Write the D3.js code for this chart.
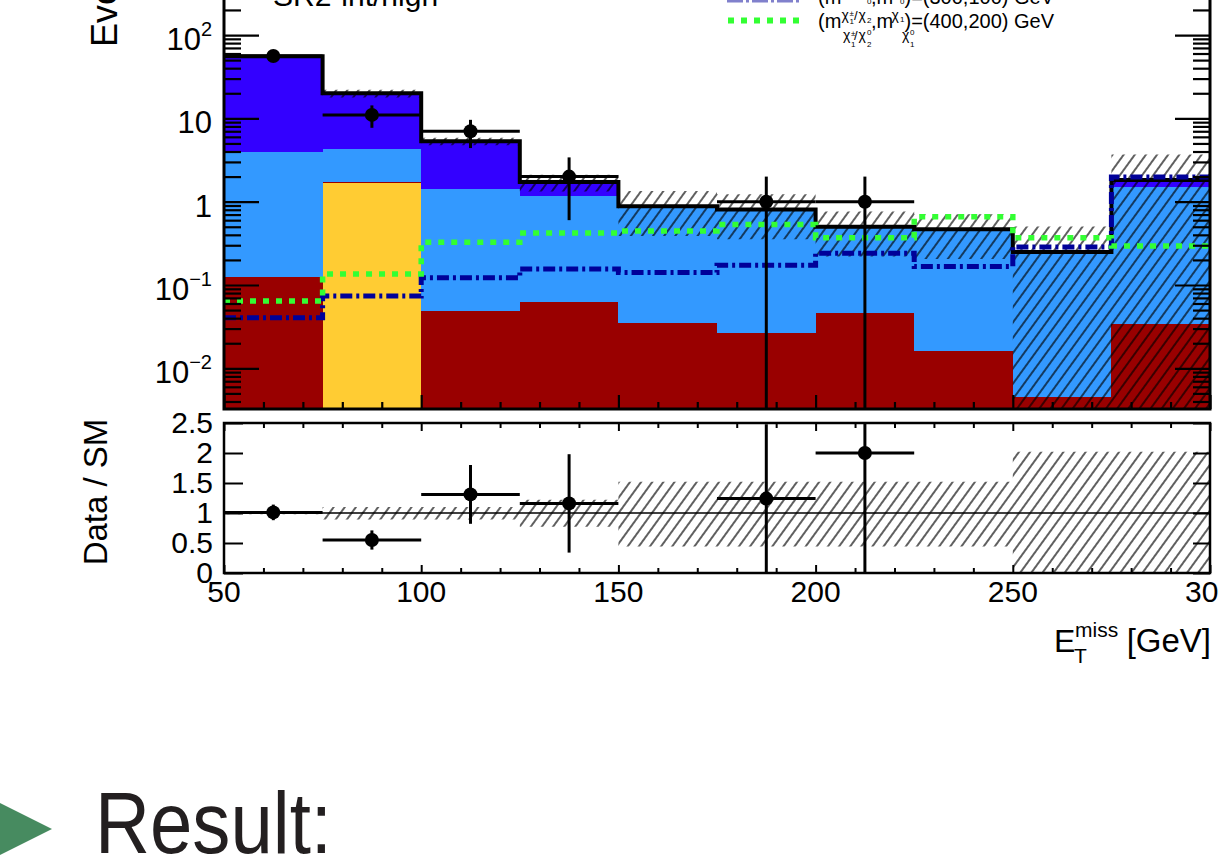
<!DOCTYPE html>
<html>
<head>
<meta charset="utf-8">
<script src="https://cdn.jsdelivr.net/npm/d3@7"></script>
<style>
  body { margin: 0; background: #fff; }
  text { font-family: "Liberation Sans", Arial, Helvetica, sans-serif; fill: #000; }
</style>
</head>
<body>
<div id="chart"></div>
<script>
// bin edges, E_T^miss in GeV
var binEdges = [50, 75, 100, 125, 150, 175, 200, 225, 250, 275, 300]

// SM backgrounds (stacked, bottom to top)
var bkgYellow    = [0, 1.66, 0, 0, 0, 0, 0, 0, 0, 0]
var bkgRed       = [0.124, 0.08, 0.0488, 0.063, 0.0352, 0.0267, 0.0458, 0.0163, 0.0045, 0.0342]
var bkgLightBlue = [3.80, 2.56, 1.36, 1.10, 0.835, 0.773, 0.444, 0.444, 0.2405, 1.476]
var bkgBlue      = [51.6, 15.7, 3.92, 0.56, 0.012, 0.006, 0.01, 0.005, 0.004, 0.31]

// uncertainty band, relative to the SM total
var bandUp   = [1.02, 1.10, 1.10, 1.22, 1.52, 1.52, 1.52, 1.52, 2.02, 2.02]
var bandDown = [0.98, 0.89, 0.89, 0.77, 0.44, 0.44, 0.44, 0.44, 0, 0]

// signals
var sig300 = [0.0405, 0.0738, 0.1225, 0.156, 0.141, 0.173, 0.241, 0.167, 0.286, 1.98]
var sig400 = [0.0643, 0.1355, 0.326, 0.42, 0.445, 0.534, 0.37, 0.659, 0.37, 0.294]

// data
var dataVal = [56, 11, 7, 2, 0, 1, 1, 0, 0, 0]
var dataErr = [7.5, 3.3, 2.6, 1.4, 0, 1, 1, 0, 0, 0]

// data / SM
var ratioVal = [1.01, 0.55, 1.31, 1.16, null, 1.24, 2.0, null, null, null]
var ratioErr = [0.13, 0.16, 0.49, 0.82, 0, 1.24, 2.0, 0, 0, 0]

// axis ticks
var yMajor = [0.01, 0.1, 1, 10, 100]
var yLabels = [["10", "\u22122"], ["10", "\u22121"], ["1", ""], ["10", ""], ["10", "2"]]
var ratioTicks = [0, 0.5, 1, 1.5, 2, 2.5]
var ratioLabels = ["0", "0.5", "1", "1.5", "2", "2.5"]
var xMajor = [50, 100, 150, 200, 250, 300]

var W = 1219, H = 863

var svg = d3.select("#chart").append("svg")
  .attr("width", W)
  .attr("height", H)
  .style("display", "block")

svg.append("rect").attr("width", W).attr("height", H).attr("fill", "#fff")

// hatch pattern
var defs = svg.append("defs")
defs.append("pattern")
  .attr("id", "hatch")
  .attr("patternUnits", "userSpaceOnUse")
  .attr("width", 9).attr("height", 9)
  .attr("patternTransform", "rotate(36)")
  .append("line")
  .attr("x1", 1).attr("y1", 0).attr("x2", 1).attr("y2", 9)
  .attr("stroke", "#000").attr("stroke-width", 1.25)

defs.append("clipPath").attr("id", "clipTop")
  .append("rect").attr("x", 225).attr("y", -80).attr("width", 984).attr("height", 488)
defs.append("clipPath").attr("id", "clipRatio")
  .append("rect").attr("x", 225).attr("y", 424).attr("width", 984).attr("height", 148)

// scales
var x = d3.scaleLinear().domain([50, 300]).range([224, 1210])
var y = d3.scaleLog().domain([0.00325, 1000]).range([409, -48.3]).clamp(true)
var yr = d3.scaleLinear().domain([0, 2.5]).range([573, 423])

function ly(v) { return y(Math.max(v, 1e-5)) }

// ---------- top panel ----------
var upper = svg.append("g").attr("clip-path", "url(#clipTop)")

var rows = bkgRed.map(function(v, i) {
  return {lo: binEdges[i], hi: binEdges[i + 1],
    yellow: bkgYellow[i], red: bkgRed[i], light: bkgLightBlue[i], blue: bkgBlue[i]}
})
var keys = ["yellow", "red", "light", "blue"]
var colors = {yellow: "#ffcc33", red: "#990000", light: "#3399ff", blue: "#3300ff"}
var stacked = d3.stack().keys(keys)(rows)

stacked.forEach(function(layer) {
  upper.selectAll(null)
    .data(layer)
    .enter()
    .append("rect")
    .attr("x", function(d) { return x(d.data.lo) })
    .attr("width", function(d) { return x(d.data.hi) - x(d.data.lo) })
    .attr("y", function(d) { return ly(d[1]) })
    .attr("height", function(d) { return Math.max(0, ly(d[0]) - ly(d[1])) })
    .attr("fill", colors[layer.key])
    .attr("shape-rendering", "crispEdges")
})

var total = stacked[stacked.length - 1].map(function(d) { return d[1] })

// step helpers
function stepPts(vals) {
  var p = []
  vals.forEach(function(v, i) { p.push([binEdges[i], v]); p.push([binEdges[i + 1], v]) })
  return p
}
var stepLine = d3.line()
  .x(function(d) { return x(d[0]) })
  .y(function(d) { return ly(d[1]) })

// uncertainty band (hatched)
var bandPts = []
total.forEach(function(t, i) {
  bandPts.push([binEdges[i], t * bandDown[i], t * bandUp[i]])
  bandPts.push([binEdges[i + 1], t * bandDown[i], t * bandUp[i]])
})
upper.append("path")
  .datum(bandPts)
  .attr("fill", "url(#hatch)")
  .attr("d", d3.area()
    .x(function(d) { return x(d[0]) })
    .y0(function(d) { return ly(d[1]) })
    .y1(function(d) { return ly(d[2]) }))

// SM total
upper.append("path")
  .datum(stepPts(total))
  .attr("fill", "none")
  .attr("stroke", "#000")
  .attr("stroke-width", 4)
  .attr("d", stepLine)

// signals
upper.append("path")
  .datum(stepPts(sig300))
  .attr("fill", "none")
  .attr("stroke", "#000099")
  .attr("stroke-width", 5)
  .attr("stroke-dasharray", "12,4,3,4")
  .attr("d", stepLine)

upper.append("path")
  .datum(stepPts(sig400))
  .attr("fill", "none")
  .attr("stroke", "#33ff33")
  .attr("stroke-width", 5.5)
  .attr("stroke-dasharray", "6,7")
  .attr("d", stepLine)

// data points
var dataRows = dataVal.map(function(v, i) {
  return {lo: binEdges[i], hi: binEdges[i + 1], v: v, e: dataErr[i], r: ratioVal[i], re: ratioErr[i]}
})
var dataShown = dataRows.filter(function(d) { return d.v > 0 })

upper.selectAll(null).data(dataShown).enter().append("line")
  .attr("x1", function(d) { return x(d.lo) })
  .attr("x2", function(d) { return x(d.hi) })
  .attr("y1", function(d) { return ly(d.v) })
  .attr("y2", function(d) { return ly(d.v) })
  .attr("stroke", "#000").attr("stroke-width", 3)
upper.selectAll(null).data(dataShown).enter().append("line")
  .attr("x1", function(d) { return x((d.lo + d.hi) / 2) })
  .attr("x2", function(d) { return x((d.lo + d.hi) / 2) })
  .attr("y1", function(d) { return ly(d.v + d.e) })
  .attr("y2", function(d) { return ly(d.v - d.e) })
  .attr("stroke", "#000").attr("stroke-width", 3)
upper.selectAll(null).data(dataShown).enter().append("circle")
  .attr("cx", function(d) { return x((d.lo + d.hi) / 2) })
  .attr("cy", function(d) { return ly(d.v) })
  .attr("r", 7)
  .attr("fill", "#000")

// frame of top panel
svg.append("path")
  .attr("d", "M224,-10 V409 H1210 V-10")
  .attr("fill", "none").attr("stroke", "#000").attr("stroke-width", 3)

// axes helper
function drawAxis(axis, tx, ty, sw) {
  var g = svg.append("g").attr("transform", "translate(" + tx + "," + ty + ")").call(axis)
  g.select(".domain").remove()
  g.selectAll("text").remove()
  g.selectAll(".tick line").attr("stroke", "#000").attr("stroke-width", sw)
  return g
}

var yMinor = []
d3.range(-3, 3).forEach(function(dd) {
  d3.range(2, 10).forEach(function(k) {
    var v = k * Math.pow(10, dd)
    if (v > 0.00325 && v < 1000) yMinor.push(v)
  })
})

drawAxis(d3.axisLeft(y).tickValues(yMajor.concat([1000])).tickSize(-35).tickSizeOuter(0), 224, 0, 2.2)
drawAxis(d3.axisLeft(y).tickValues(yMinor).tickSize(-17).tickSizeOuter(0), 224, 0, 2.2)
drawAxis(d3.axisRight(y).tickValues(yMajor.concat([1000])).tickSize(-35).tickSizeOuter(0), 1210, 0, 2.2)
drawAxis(d3.axisRight(y).tickValues(yMinor).tickSize(-17).tickSizeOuter(0), 1210, 0, 2.2)

var xMinor = d3.range(50, 301, 10).filter(function(v) { return v % 50 != 0 })
drawAxis(d3.axisBottom(x).tickValues(xMajor).tickSize(-14).tickSizeOuter(0), 0, 409, 2.2)
drawAxis(d3.axisBottom(x).tickValues(xMinor).tickSize(-7).tickSizeOuter(0), 0, 409, 2.2)

// y labels of top panel
yMajor.forEach(function(v, i) {
  var t = svg.append("text")
    .attr("x", 212)
    .attr("y", y(v) + 15)
    .attr("text-anchor", "end")
    .attr("font-size", 31)
    .text(yLabels[i][0])
  if (yLabels[i][1] != "") {
    t.append("tspan").attr("dy", -14).attr("font-size", 20).text(yLabels[i][1])
  }
})

// y title (cut off at top)
svg.append("text")
  .attr("transform", "translate(117,47) rotate(-90)")
  .attr("text-anchor", "start")
  .attr("font-size", 36)
  .text("Events")

// region label
svg.append("text")
  .attr("x", 273).attr("y", 6)
  .attr("font-size", 30)
  .text("SR2-int/high")

// ---------- legend (cut off at top) ----------
var leg = svg.append("g")
leg.append("line")
  .attr("x1", 727).attr("x2", 800).attr("y1", 0).attr("y2", 0)
  .attr("stroke", "#8080cc").attr("stroke-width", 5)
  .attr("stroke-dasharray", "16,3,3,3")
leg.append("line")
  .attr("x1", 728).attr("x2", 800).attr("y1", 20.5).attr("y2", 20.5)
  .attr("stroke", "#33ff33").attr("stroke-width", 6)
  .attr("stroke-dasharray", "6,7")

function piece(px, py, size, str) {
  leg.append("text").attr("x", px).attr("y", py).attr("font-size", size).text(str)
}
function legendRow(B, mass, withSub) {
  piece(818, B, 20, "(m")
  // superscripts
  piece(841.5, B - 8, 14, "\u03c7")
  piece(849.5, B - 12, 8, "\u00b1")
  piece(849.5, B - 4, 8, "1")
  piece(854, B - 8, 13, "/")
  piece(858.5, B - 8, 14, "\u03c7")
  piece(867, B - 5, 8, "2")
  piece(867, B - 24, 8, "0")
  piece(871, B, 20, ",m")
  piece(891.5, B - 8, 14, "\u03c7")
  piece(900, B - 6, 8, "1")
  piece(900, B - 24, 8, "0")
  piece(904.5, B, 20, ")=(" + mass + ") GeV")
  if (withSub) {
    piece(843, B + 12, 14, "\u03c7")
    piece(851, B + 8, 8, "\u00b1")
    piece(851, B + 19, 8, "1")
    piece(854, B + 12, 13, "/")
    piece(858.5, B + 12, 14, "\u03c7")
    piece(867, B + 7, 8, "0")
    piece(867, B + 19, 8, "2")
    piece(902, B + 12, 14, "\u03c7")
    piece(910, B + 7, 8, "0")
    piece(910, B + 19, 8, "1")
  }
}
legendRow(4, "300,100", false)
legendRow(28, "400,200", true)

// ---------- ratio panel ----------
var rat = svg.append("g").attr("clip-path", "url(#clipRatio)")

var rBand = []
bandUp.forEach(function(u, i) {
  rBand.push([binEdges[i], bandDown[i], u])
  rBand.push([binEdges[i + 1], bandDown[i], u])
})
rat.append("path")
  .datum(rBand)
  .attr("fill", "url(#hatch)")
  .attr("d", d3.area()
    .x(function(d) { return x(d[0]) })
    .y0(function(d) { return yr(d[1]) })
    .y1(function(d) { return yr(d[2]) }))

rat.append("line")
  .attr("x1", x(50)).attr("x2", x(300))
  .attr("y1", yr(1)).attr("y2", yr(1))
  .attr("stroke", "#000").attr("stroke-width", 1.5)

var ratioShown = dataRows.filter(function(d) { return d.r != null })
rat.selectAll(null).data(ratioShown).enter().append("line")
  .attr("x1", function(d) { return x(d.lo) })
  .attr("x2", function(d) { return x(d.hi) })
  .attr("y1", function(d) { return yr(d.r) })
  .attr("y2", function(d) { return yr(d.r) })
  .attr("stroke", "#000").attr("stroke-width", 3)
rat.selectAll(null).data(ratioShown).enter().append("line")
  .attr("x1", function(d) { return x((d.lo + d.hi) / 2) })
  .attr("x2", function(d) { return x((d.lo + d.hi) / 2) })
  .attr("y1", function(d) { return yr(d.r + d.re) })
  .attr("y2", function(d) { return yr(Math.max(0, d.r - d.re)) })
  .attr("stroke", "#000").attr("stroke-width", 3)
rat.selectAll(null).data(ratioShown).enter().append("circle")
  .attr("cx", function(d) { return x((d.lo + d.hi) / 2) })
  .attr("cy", function(d) { return yr(d.r) })
  .attr("r", 7)
  .attr("fill", "#000")

svg.append("rect")
  .attr("x", 224).attr("y", 423).attr("width", 986).attr("height", 150)
  .attr("fill", "none").attr("stroke", "#000").attr("stroke-width", 2.5)

drawAxis(d3.axisLeft(yr).tickValues(ratioTicks).tickSize(-19).tickSizeOuter(0), 224, 0, 2)
drawAxis(d3.axisRight(yr).tickValues(ratioTicks).tickSize(-17).tickSizeOuter(0), 1210, 0, 2)
drawAxis(d3.axisBottom(x).tickValues(xMajor).tickSize(-8).tickSizeOuter(0), 0, 573, 2)
drawAxis(d3.axisBottom(x).tickValues(xMinor).tickSize(-5).tickSizeOuter(0), 0, 573, 2)
drawAxis(d3.axisTop(x).tickValues(xMajor).tickSize(-8).tickSizeOuter(0), 0, 423, 2)
drawAxis(d3.axisTop(x).tickValues(xMinor).tickSize(-5).tickSizeOuter(0), 0, 423, 2)

ratioTicks.forEach(function(v, i) {
  svg.append("text")
    .attr("x", 213).attr("y", yr(v) + 10)
    .attr("text-anchor", "end")
    .attr("font-size", 30)
    .text(ratioLabels[i])
})

xMajor.forEach(function(v) {
  svg.append("text")
    .attr("x", x(v)).attr("y", 602)
    .attr("text-anchor", "middle")
    .attr("font-size", 30)
    .text(v)
})

svg.append("text")
  .attr("transform", "translate(107,492) rotate(-90)")
  .attr("text-anchor", "middle")
  .attr("font-size", 33)
  .text("Data / SM")

// x title
svg.append("text").attr("x", 1054).attr("y", 652).attr("font-size", 32).text("E")
svg.append("text").attr("x", 1075).attr("y", 637).attr("font-size", 21).text("miss")
svg.append("text").attr("x", 1074).attr("y", 663).attr("font-size", 21).text("T")
svg.append("text").attr("x", 1211).attr("y", 652).attr("text-anchor", "end").attr("font-size", 33).text("[GeV]")

// ---------- slide text below ----------
svg.append("path")
  .attr("d", "M-15,795.5 L52,829 L-15,862.5 Z")
  .attr("fill", "#478b60")
svg.append("text")
  .attr("x", 95).attr("y", 853)
  .attr("font-family", "'Open Sans', Lato, sans-serif")
  .attr("font-size", 88)
  .attr("textLength", 237)
  .attr("lengthAdjust", "spacingAndGlyphs")
  .style("fill", "#231f20")
  .text("Result:")
</script>
</body>
</html>
